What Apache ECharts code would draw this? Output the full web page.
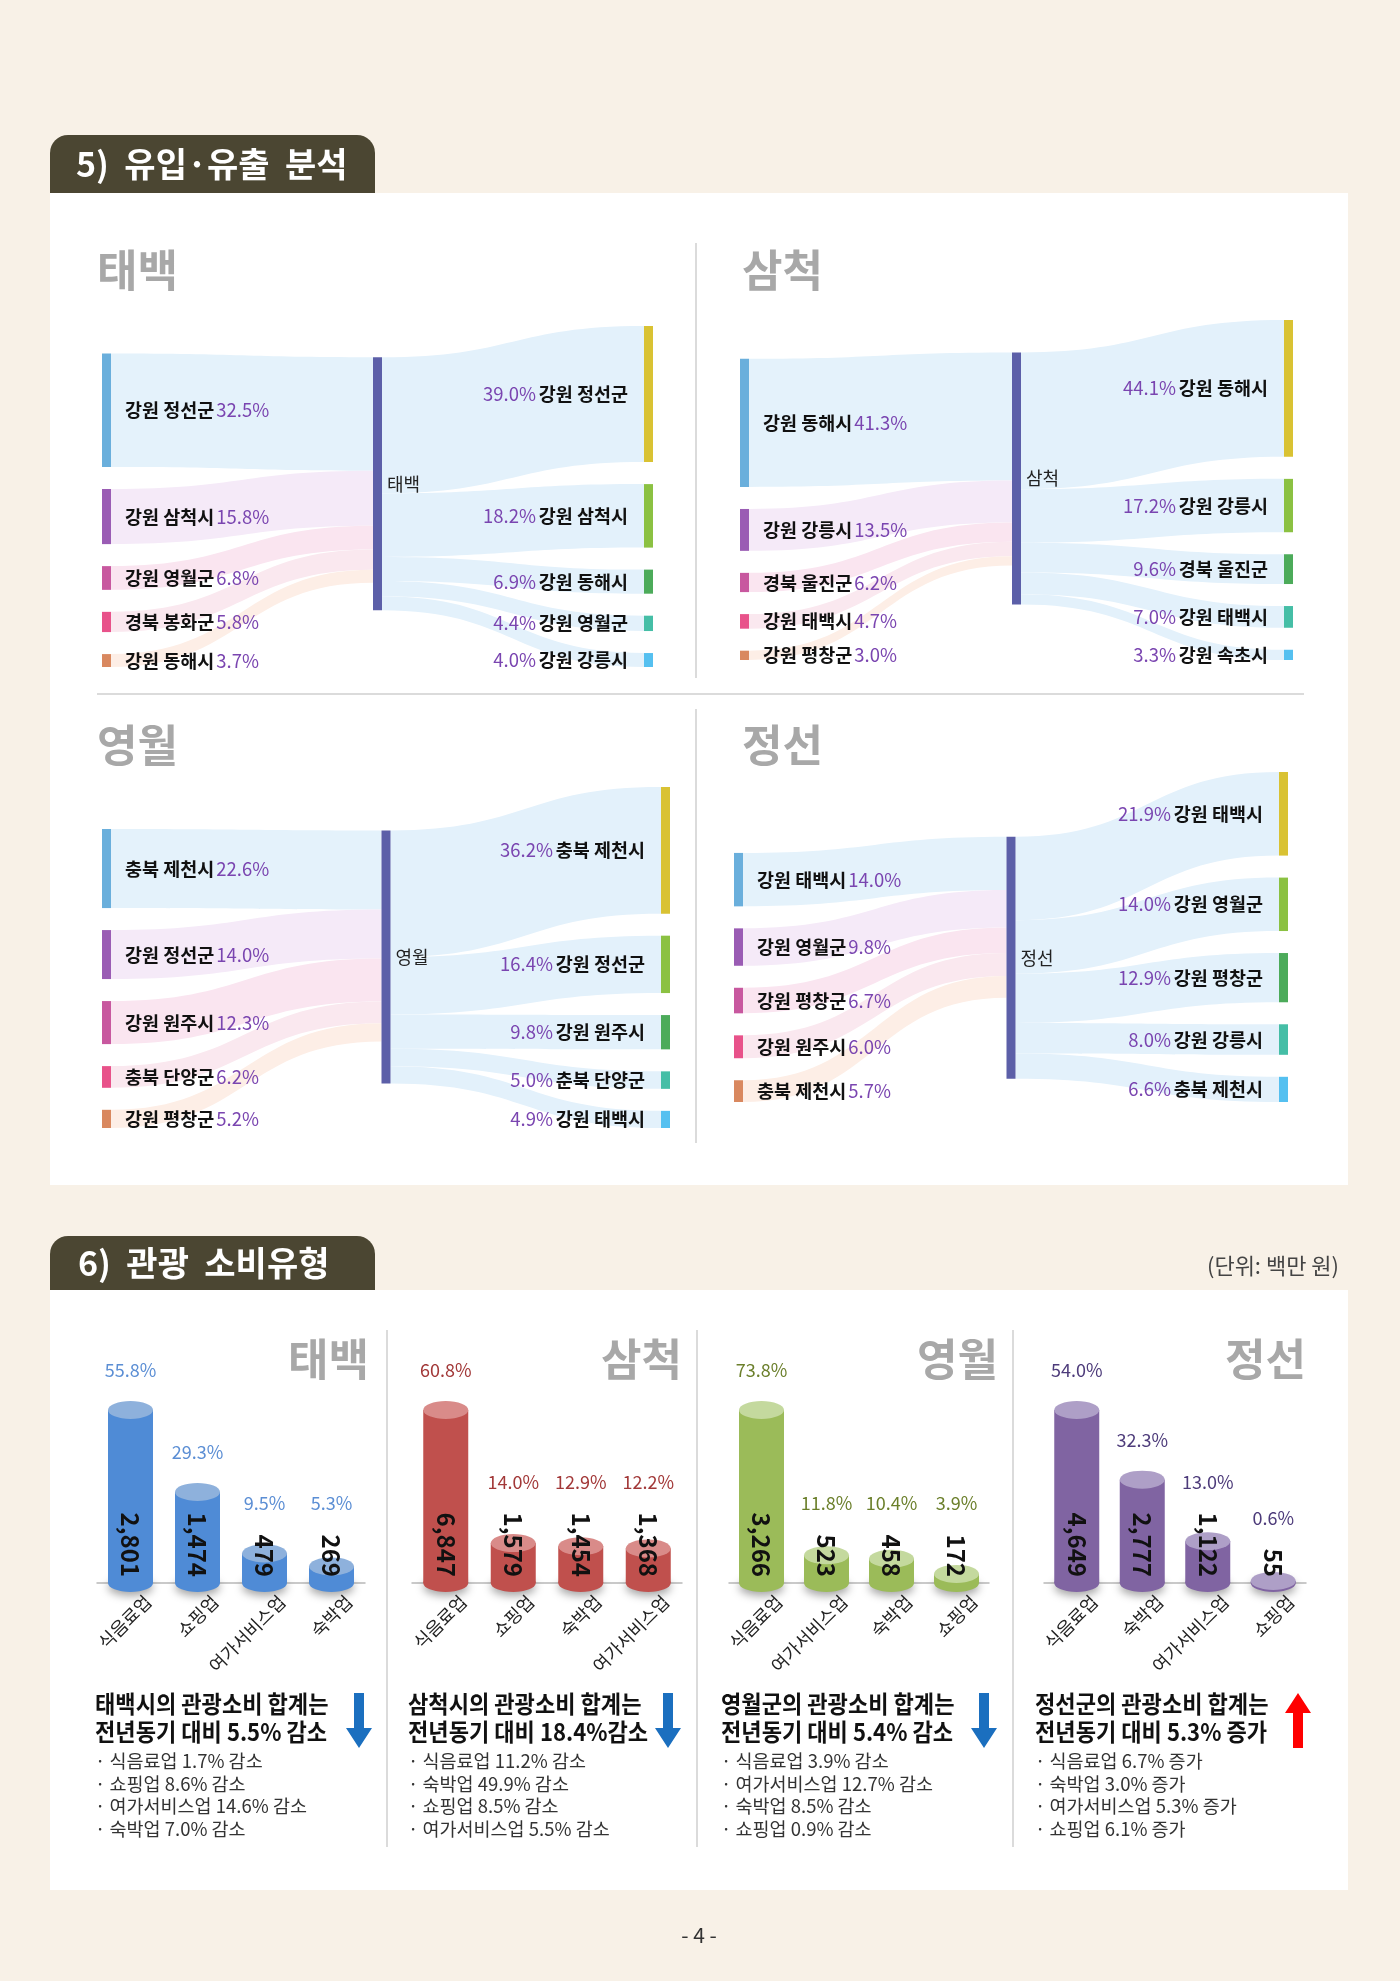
<!DOCTYPE html>
<html>
<head>
<meta charset="utf-8">
<script src="https://cdn.jsdelivr.net/npm/echarts@6/dist/echarts.min.js"></script>
<style>
html, body { margin: 0; padding: 0; background: #f8f1e7; }
#page { width: 1400px; height: 1981px; }
</style>
</head>
<body>
<div id="page"></div>
<script>
// 5) 유입·유출 분석
var flowHubs = ['태백', '삼척', '영월', '정선'];
var inNames = [
    ['강원 정선군', '강원 삼척시', '강원 영월군', '경북 봉화군', '강원 동해시'],
    ['강원 동해시', '강원 강릉시', '경북 울진군', '강원 태백시', '강원 평창군'],
    ['충북 제천시', '강원 정선군', '강원 원주시', '충북 단양군', '강원 평창군'],
    ['강원 태백시', '강원 영월군', '강원 평창군', '강원 원주시', '충북 제천시']
];
var inShares = [
    [32.5, 15.8, 6.8, 5.8, 3.7],
    [41.3, 13.5, 6.2, 4.7, 3.0],
    [22.6, 14.0, 12.3, 6.2, 5.2],
    [14.0, 9.8, 6.7, 6.0, 5.7]
];
var outNames = [
    ['강원 정선군', '강원 삼척시', '강원 동해시', '강원 영월군', '강원 강릉시'],
    ['강원 동해시', '강원 강릉시', '경북 울진군', '강원 태백시', '강원 속초시'],
    ['충북 제천시', '강원 정선군', '강원 원주시', '춘북 단양군', '강원 태백시'],
    ['강원 태백시', '강원 영월군', '강원 평창군', '강원 강릉시', '충북 제천시']
];
var outShares = [
    [39.0, 18.2, 6.9, 4.4, 4.0],
    [44.1, 17.2, 9.6, 7.0, 3.3],
    [36.2, 16.4, 9.8, 5.0, 4.9],
    [21.9, 14.0, 12.9, 8.0, 6.6]
];

// 6) 관광 소비유형 (단위: 백만 원)
var spendRegions = ['태백', '삼척', '영월', '정선'];
var spendCats = [
    ['식음료업', '쇼핑업', '여가서비스업', '숙박업'],
    ['식음료업', '쇼핑업', '숙박업', '여가서비스업'],
    ['식음료업', '여가서비스업', '숙박업', '쇼핑업'],
    ['식음료업', '숙박업', '여가서비스업', '쇼핑업']
];
var spendValues = [
    [2801, 1474, 479, 269],
    [6847, 1579, 1454, 1368],
    [3266, 523, 458, 172],
    [4649, 2777, 1122, 55]
];
var spendShares = [
    [55.8, 29.3, 9.5, 5.3],
    [60.8, 14.0, 12.9, 12.2],
    [73.8, 11.8, 10.4, 3.9],
    [54.0, 32.3, 13.0, 0.6]
];
var summaryHead = [
    ['태백시의 관광소비 합계는', '전년동기 대비 5.5% 감소'],
    ['삼척시의 관광소비 합계는', '전년동기 대비 18.4%감소'],
    ['영월군의 관광소비 합계는', '전년동기 대비 5.4% 감소'],
    ['정선군의 관광소비 합계는', '전년동기 대비 5.3% 증가']
];
var summaryUp = [false, false, false, true];
var summaryItems = [
    ['식음료업 1.7% 감소', '쇼핑업 8.6% 감소', '여가서비스업 14.6% 감소', '숙박업 7.0% 감소'],
    ['식음료업 11.2% 감소', '숙박업 49.9% 감소', '쇼핑업 8.5% 감소', '여가서비스업 5.5% 감소'],
    ['식음료업 3.9% 감소', '여가서비스업 12.7% 감소', '숙박업 8.5% 감소', '쇼핑업 0.9% 감소'],
    ['식음료업 6.7% 증가', '숙박업 3.0% 증가', '여가서비스업 5.3% 증가', '쇼핑업 6.1% 증가']
];

var FONT = '"Noto Sans CJK KR", "Noto Sans", sans-serif';
var inColors = ['#6aafdc', '#9a5cb4', '#c8589f', '#e8528a', '#d9885f'];
var inLinkColors = ['#e4f2fb', '#f5eaf8', '#fae5f0', '#fae8ef', '#fdeee6'];
var outColors = ['#d9c233', '#8bc142', '#4cab5a', '#45bea6', '#55c0f0'];
var flowBoxes = [
    {left: 102, top: 326, width: 551, height: 341},
    {left: 740, top: 320, width: 553, height: 340},
    {left: 102, top: 787, width: 568, height: 341},
    {left: 734, top: 772, width: 554, height: 330}
];
var barColors = ['#4f8bd6', '#c0504d', '#9bbb59', '#8064a2'];
var barTops = ['#8eb1dc', '#d98b89', '#c4d99e', '#ae9fc7'];
var pctColors = ['#5b8ed4', '#a23838', '#6b7f2b', '#4d3b7a'];
var barGrids = [
    {left: 97, width: 268},
    {left: 412, width: 270},
    {left: 729, width: 260},
    {left: 1044, width: 262}
];
var BAR_H = 173;

function flowSeries(k) {
    var hub = flowHubs[k];
    var nodes = [{name: hub, itemStyle: {color: '#5c5fa8'},
        label: {position: 'right', distance: 5, formatter: '{c|' + hub + '}'}}];
    var links = [];
    inNames[k].forEach(function (n, j) {
        var id = '유입 ' + n;
        nodes.push({name: id, itemStyle: {color: inColors[j]},
            label: {position: 'right', formatter: '{n|' + n + '}{p|' + inShares[k][j].toFixed(1) + '%}'}});
        links.push({source: id, target: hub, value: inShares[k][j], lineStyle: {color: inLinkColors[j]}});
    });
    outNames[k].forEach(function (n, j) {
        var id = '유출 ' + n;
        nodes.push({name: id, itemStyle: {color: outColors[j]},
            label: {position: 'left', formatter: '{p|' + outShares[k][j].toFixed(1) + '%} {n|' + n + '}'}});
        links.push({source: hub, target: id, value: outShares[k][j], lineStyle: {color: '#e3f1fb'}});
    });
    var b = flowBoxes[k];
    return {
        type: 'sankey',
        left: b.left, top: b.top, width: b.width, height: b.height,
        nodeWidth: 9,
        nodeGap: 22,
        layoutIterations: 32,
        draggable: false,
        silent: true,
        emphasis: {disabled: true},
        data: nodes,
        links: links,
        itemStyle: {borderWidth: 0},
        lineStyle: {curveness: 0.5, opacity: 1},
        label: {
            distance: 14,
            rich: {
                n: {fontFamily: FONT, fontSize: 18.5, fontWeight: 'bold', color: '#111', padding: [0, 2, 0, 0]},
                p: {fontFamily: FONT, fontSize: 18.5, color: '#7a45b0'},
                c: {fontFamily: FONT, fontSize: 18, color: '#222'}
            }
        }
    };
}

// keep the share label clear of the rotated amount label on short bars
function shareData(i) {
    var max = Math.max.apply(null, spendValues[i]);
    return spendValues[i].map(function (v) {
        var s = v.toLocaleString('en-US');
        var textLen = s.replace(/,/g, '').length * 14.5 + (s.indexOf(',') >= 0 ? 7 : 0) + 6;
        var barPx = BAR_H * v / max;
        return {value: v, label: {distance: Math.max(22, textLen + 12 - barPx)}};
    });
}

var grids = [], xAxes = [], yAxes = [], series = [];
for (var k = 0; k < 4; k++) series.push(flowSeries(k));
for (var i = 0; i < 4; i++) {
    grids.push({left: barGrids[i].left, width: barGrids[i].width, top: 1410, height: BAR_H});
    xAxes.push({
        type: 'category', gridIndex: i, data: spendCats[i],
        axisLine: {lineStyle: {color: '#b8b8b8', width: 1.5}},
        axisTick: {show: false},
        axisLabel: {show: false}
    });
    yAxes.push({type: 'value', gridIndex: i, show: false, min: 0, max: 'dataMax'});
    series.push({
        type: 'bar', xAxisIndex: i, yAxisIndex: i, data: spendValues[i],
        barWidth: 45, barGap: '-100%', z: 2, silent: true,
        itemStyle: {color: barColors[i]}
    });
    series.push({
        type: 'pictorialBar', xAxisIndex: i, yAxisIndex: i, data: spendValues[i],
        symbol: 'circle', symbolSize: [45, 18], symbolPosition: 'start', symbolOffset: [0, '50%'],
        z: 1, silent: true,
        itemStyle: {color: barColors[i], shadowColor: 'rgba(0,0,0,0.35)', shadowBlur: 8, shadowOffsetY: 4},
        label: {
            show: true, position: 'bottom', distance: 12, rotate: 45,
            align: 'right', verticalAlign: 'middle', offset: [10, 15],
            fontFamily: FONT, fontSize: 18, color: '#222', formatter: '{b}'
        }
    });
    series.push({
        type: 'pictorialBar', xAxisIndex: i, yAxisIndex: i, data: shareData(i),
        symbol: 'circle', symbolSize: [45, 18], symbolPosition: 'end', symbolOffset: [0, '-50%'],
        z: 3, silent: true,
        itemStyle: {color: barTops[i]},
        label: {
            show: true, position: 'top',
            fontFamily: FONT, fontSize: 18, color: pctColors[i],
            formatter: (function (arr) {
                return function (p) { return arr[p.dataIndex].toFixed(1) + '%'; };
            })(spendShares[i])
        }
    });
    series.push({
        type: 'bar', xAxisIndex: i, yAxisIndex: i, data: spendValues[i],
        barWidth: 45, barGap: '-100%', z: 5, silent: true,
        itemStyle: {color: 'transparent'},
        label: {
            show: true, position: 'insideBottom', rotate: -90, align: 'right', verticalAlign: 'middle',
            distance: 6, fontFamily: FONT, fontSize: 24, fontWeight: 'bold', color: '#111',
            formatter: function (p) { return p.value.toLocaleString('en-US'); }
        }
    });
}

function txt(x, y, s, size, weight, fill, align, sx) {
    return {type: 'text', x: x, y: y, z: 10, scaleX: sx || 1, style: {
        text: s, fontSize: size, fontWeight: weight, fontFamily: FONT, fill: fill,
        align: align || 'left', textAlign: align || 'left', verticalAlign: 'middle', textVerticalAlign: 'middle'
    }};
}
function line(x1, y1, x2, y2) {
    return {type: 'line', z: 1, shape: {x1: x1, y1: y1, x2: x2, y2: y2}, style: {stroke: '#cfcfcf', lineWidth: 1.5}};
}
function arrow(cx, y0, y1, up, color) {
    var pts = up
        ? [[cx - 5, y1], [cx + 5, y1], [cx + 5, y0 + 20], [cx + 13, y0 + 20], [cx, y0], [cx - 13, y0 + 20], [cx - 5, y0 + 20]]
        : [[cx - 5, y0], [cx + 5, y0], [cx + 5, y1 - 20], [cx + 13, y1 - 20], [cx, y1], [cx - 13, y1 - 20], [cx - 5, y1 - 20]];
    return {type: 'polygon', z: 10, shape: {points: pts}, style: {fill: color}};
}

var graphics = [
    {type: 'rect', z: 0, shape: {x: 50, y: 193, width: 1298, height: 992}, style: {fill: '#ffffff'}},
    {type: 'rect', z: 0, shape: {x: 50, y: 135, width: 325, height: 58, r: [18, 18, 0, 0]}, style: {fill: '#4b4632'}},
    txt(76, 164, '5)  유입·유출  분석', 34, 'bold', '#ffffff'),
    line(696, 243, 696, 678), line(696, 709, 696, 1143), line(97, 694, 1304, 694),
    txt(97, 270, flowHubs[0], 44, 'bold', '#a8a8a8'),
    txt(742, 270, flowHubs[1], 44, 'bold', '#a8a8a8'),
    txt(97, 745, flowHubs[2], 44, 'bold', '#a8a8a8'),
    txt(742, 745, flowHubs[3], 44, 'bold', '#a8a8a8'),
    {type: 'rect', z: 0, shape: {x: 50, y: 1290, width: 1298, height: 600}, style: {fill: '#ffffff'}},
    {type: 'rect', z: 0, shape: {x: 50, y: 1236, width: 325, height: 54, r: [18, 18, 0, 0]}, style: {fill: '#4b4632'}},
    txt(78, 1263, '6)  관광  소비유형', 34, 'bold', '#ffffff'),
    txt(1339, 1266, '(단위: 백만 원)', 22, 'normal', '#444', 'right'),
    line(387, 1330, 387, 1847), line(697, 1330, 697, 1847), line(1013, 1330, 1013, 1847),
    txt(699, 1935, '- 4 -', 21, 'normal', '#333', 'center')
];
var titleRight = [369, 682, 998, 1306];
var textLeft = [95, 408, 721, 1035];
var arrowX = [359, 668, 984, 1298];
for (var r = 0; r < 4; r++) {
    graphics.push(txt(titleRight[r], 1359, spendRegions[r], 44, 'bold', '#a8a8a8', 'right'));
    graphics.push(txt(textLeft[r], 1704, summaryHead[r][0], 24, 'bold', '#111', 'left', 0.92));
    graphics.push(txt(textLeft[r], 1732, summaryHead[r][1], 24, 'bold', '#111', 'left', 0.92));
    summaryItems[r].forEach(function (s, j) {
        graphics.push(txt(textLeft[r], 1761 + j * 22.5, '· ' + s, 18.5, 'normal', '#333'));
    });
    graphics.push(arrow(arrowX[r], 1693, 1748, summaryUp[r], summaryUp[r] ? '#ff0000' : '#1b6fbf'));
}

echarts.init(document.getElementById('page')).setOption({
    animation: false,
    textStyle: {fontFamily: FONT},
    graphic: graphics,
    grid: grids,
    xAxis: xAxes,
    yAxis: yAxes,
    series: series
});
</script>
</body>
</html>
